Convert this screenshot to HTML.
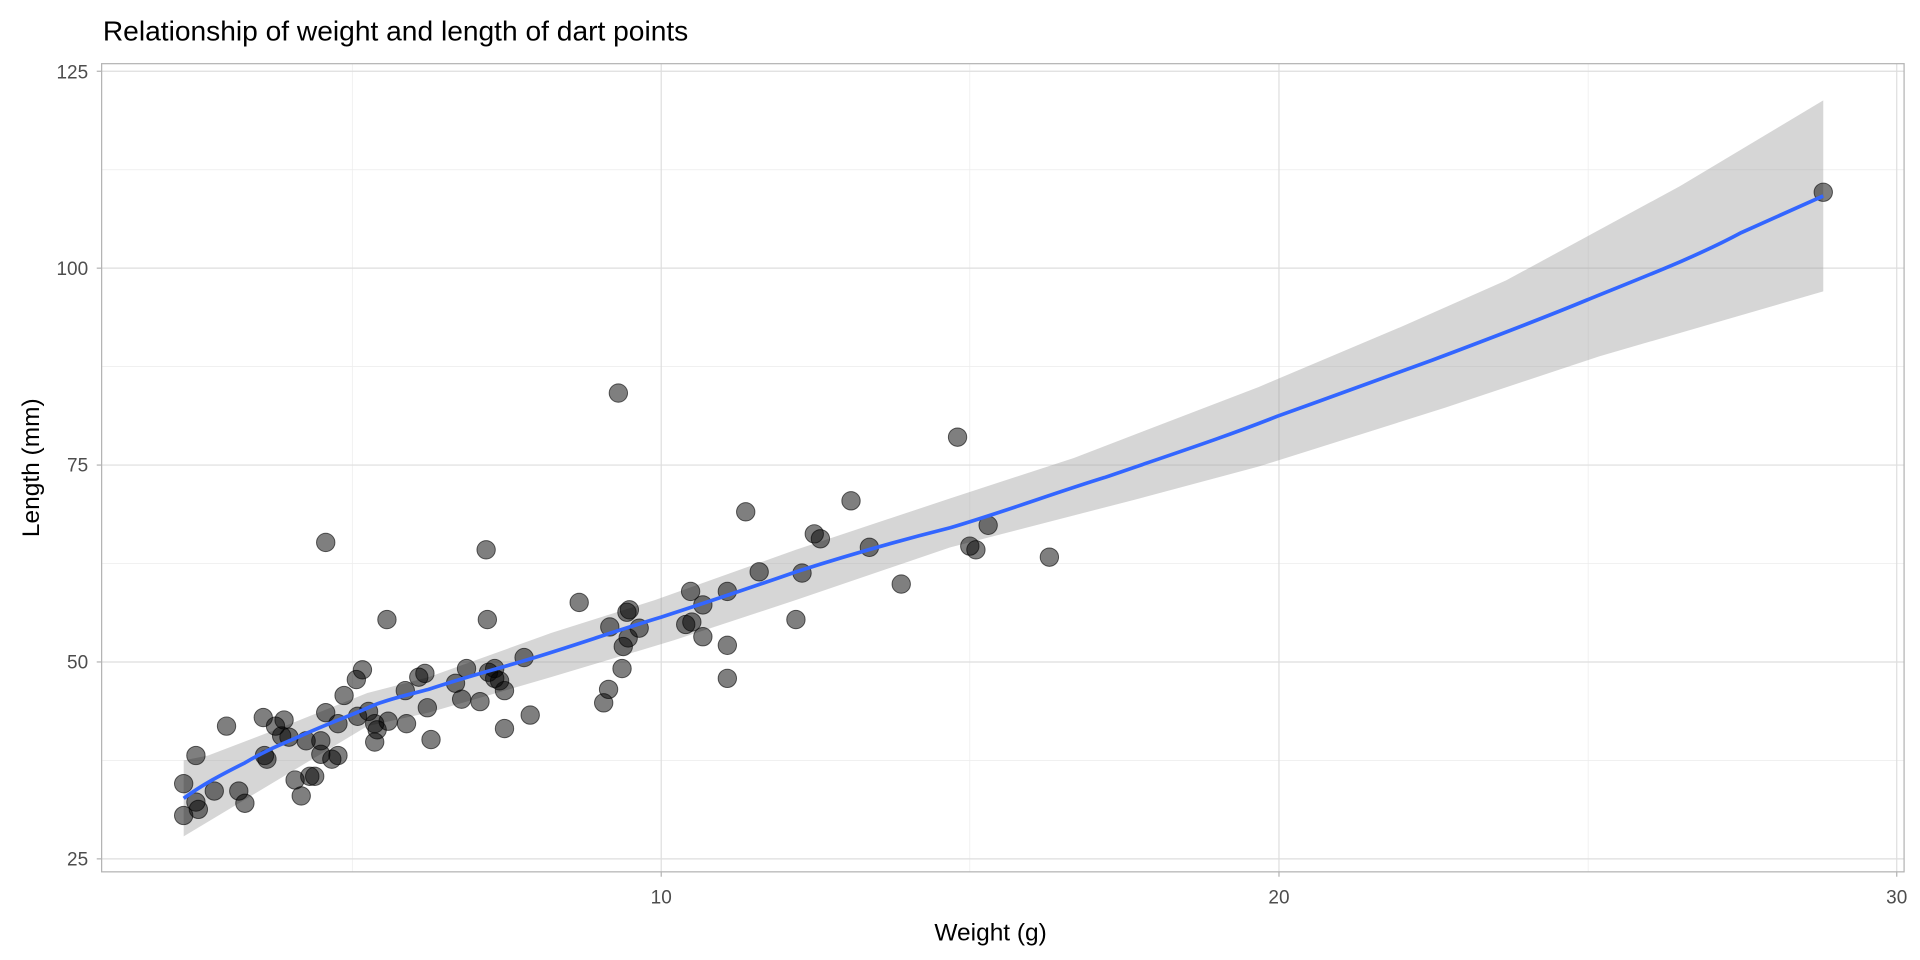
<!DOCTYPE html>
<html><head><meta charset="utf-8"><style>html,body{margin:0;padding:0;background:#fff}svg{display:block}</style></head>
<body>
<svg width="1920" height="960" viewBox="0 0 1568 784" xmlns="http://www.w3.org/2000/svg" font-family="Liberation Sans, sans-serif">
<rect width="1568" height="784" fill="#fff"/>
<text x="84" y="33" font-size="23" fill="#000">Relationship of weight and length of dart points</text>
<g stroke="#ececec" stroke-width="0.6">
<line x1="83" x2="1555" y1="621" y2="621"/><line x1="83" x2="1555" y1="460.2" y2="460.2"/><line x1="83" x2="1555" y1="299.4" y2="299.4"/><line x1="83" x2="1555" y1="138.6" y2="138.6"/>
<line x1="287.7" x2="287.7" y1="52" y2="712"/><line x1="792" x2="792" y1="52" y2="712"/><line x1="1297" x2="1297" y1="52" y2="712"/>
</g>
<g stroke="#dedede" stroke-width="1">
<line x1="83" x2="1555" y1="701.4" y2="701.4"/><line x1="83" x2="1555" y1="540.6" y2="540.6"/><line x1="83" x2="1555" y1="379.8" y2="379.8"/><line x1="83" x2="1555" y1="219" y2="219"/><line x1="83" x2="1555" y1="58.2" y2="58.2"/>
<line x1="540" x2="540" y1="52" y2="712"/><line x1="1044.5" x2="1044.5" y1="52" y2="712"/><line x1="1549" x2="1549" y1="52" y2="712"/>
</g>
<path d="M150,621 L170,617 L225,596 L300,566 L350,553 L450,517 L535,490 L650,449 L776,407 L877,374 L1028,316 L1144,267 L1230,229 L1372,152 L1489,82 L1489,238 L1306,291 L1180,333 L1028,381 L927,408 L776,447 L650,490 L550,523 L450,553 L350,582 L300,593 L200,653 L150,683 Z" fill="#999" fill-opacity="0.4"/>
<g fill="#000" fill-opacity="0.5" stroke="#000" stroke-opacity="0.6" stroke-width="0.8">
<circle cx="150" cy="640" r="7.5"/><circle cx="150" cy="666" r="7.5"/><circle cx="160" cy="617" r="7.5"/><circle cx="160" cy="655" r="7.5"/><circle cx="162" cy="661" r="7.5"/><circle cx="175" cy="646" r="7.5"/><circle cx="185" cy="593" r="7.5"/><circle cx="195" cy="646" r="7.5"/><circle cx="200" cy="656" r="7.5"/><circle cx="215" cy="586" r="7.5"/><circle cx="216" cy="617" r="7.5"/><circle cx="218" cy="620" r="7.5"/><circle cx="225" cy="593" r="7.5"/><circle cx="232" cy="588" r="7.5"/><circle cx="230" cy="601" r="7.5"/><circle cx="236" cy="602" r="7.5"/><circle cx="241" cy="637" r="7.5"/><circle cx="246" cy="650" r="7.5"/><circle cx="250" cy="605" r="7.5"/><circle cx="253" cy="634" r="7.5"/><circle cx="257" cy="634" r="7.5"/><circle cx="262" cy="616" r="7.5"/><circle cx="262" cy="605" r="7.5"/><circle cx="266" cy="443" r="7.5"/><circle cx="266" cy="582" r="7.5"/><circle cx="271" cy="620" r="7.5"/><circle cx="276" cy="617" r="7.5"/><circle cx="276" cy="591" r="7.5"/><circle cx="281" cy="568" r="7.5"/><circle cx="291" cy="555" r="7.5"/><circle cx="292" cy="585" r="7.5"/><circle cx="296" cy="547" r="7.5"/><circle cx="301" cy="581" r="7.5"/><circle cx="306" cy="591" r="7.5"/><circle cx="306" cy="606" r="7.5"/><circle cx="308" cy="596" r="7.5"/><circle cx="316" cy="506" r="7.5"/><circle cx="317" cy="589" r="7.5"/><circle cx="331" cy="564" r="7.5"/><circle cx="332" cy="591" r="7.5"/><circle cx="342" cy="553" r="7.5"/><circle cx="347" cy="550" r="7.5"/><circle cx="349" cy="578" r="7.5"/><circle cx="352" cy="604" r="7.5"/><circle cx="372" cy="558" r="7.5"/><circle cx="377" cy="571" r="7.5"/><circle cx="381" cy="546" r="7.5"/><circle cx="392" cy="573" r="7.5"/><circle cx="397" cy="449" r="7.5"/><circle cx="398" cy="506" r="7.5"/><circle cx="399" cy="549" r="7.5"/><circle cx="404" cy="546" r="7.5"/><circle cx="404" cy="554" r="7.5"/><circle cx="408" cy="556" r="7.5"/><circle cx="412" cy="564" r="7.5"/><circle cx="412" cy="595" r="7.5"/><circle cx="428" cy="537" r="7.5"/><circle cx="433" cy="584" r="7.5"/><circle cx="473" cy="492" r="7.5"/><circle cx="493" cy="574" r="7.5"/><circle cx="497" cy="563" r="7.5"/><circle cx="498" cy="512" r="7.5"/><circle cx="505" cy="321" r="7.5"/><circle cx="508" cy="546" r="7.5"/><circle cx="509" cy="528" r="7.5"/><circle cx="512" cy="500" r="7.5"/><circle cx="513" cy="521" r="7.5"/><circle cx="514" cy="498" r="7.5"/><circle cx="522" cy="513" r="7.5"/><circle cx="560" cy="510" r="7.5"/><circle cx="564" cy="483" r="7.5"/><circle cx="565" cy="508" r="7.5"/><circle cx="574" cy="520" r="7.5"/><circle cx="574" cy="494" r="7.5"/><circle cx="594" cy="554" r="7.5"/><circle cx="594" cy="527" r="7.5"/><circle cx="594" cy="483" r="7.5"/><circle cx="609" cy="418" r="7.5"/><circle cx="620" cy="467" r="7.5"/><circle cx="650" cy="506" r="7.5"/><circle cx="655" cy="468" r="7.5"/><circle cx="665" cy="436" r="7.5"/><circle cx="670" cy="440" r="7.5"/><circle cx="695" cy="409" r="7.5"/><circle cx="710" cy="447" r="7.5"/><circle cx="736" cy="477" r="7.5"/><circle cx="782" cy="357" r="7.5"/><circle cx="792" cy="446" r="7.5"/><circle cx="797" cy="449" r="7.5"/><circle cx="807" cy="429" r="7.5"/><circle cx="857" cy="455" r="7.5"/><circle cx="1489" cy="157" r="7.5"/>
</g>
<path d="M150,652 C165,641 180,633 200,623 C220,611 235,606 250,599 C275,588 290,583 305,576 C320,570 335,567 350,563 C380,553 400,548 430,539 C470,527 500,516 540,504 C580,491 610,481 650,467 C700,451 740,440 776,431 C820,418 860,403 902,390 C960,370 1000,357 1043,340 C1085,325 1125,310 1170,294 C1215,277 1255,262 1296,245 C1340,227 1385,210 1422,190 L1489,160" fill="none" stroke="#3366ff" stroke-width="3"/>
<rect x="83" y="52" width="1472" height="660" fill="none" stroke="#b3b3b3" stroke-width="1"/>
<g stroke="#b3b3b3" stroke-width="1">
<line x1="79" x2="83" y1="701.4" y2="701.4"/><line x1="79" x2="83" y1="540.6" y2="540.6"/><line x1="79" x2="83" y1="379.8" y2="379.8"/><line x1="79" x2="83" y1="219" y2="219"/><line x1="79" x2="83" y1="58.2" y2="58.2"/>
<line x1="540" x2="540" y1="712" y2="716"/><line x1="1044.5" x2="1044.5" y1="712" y2="716"/><line x1="1549" x2="1549" y1="712" y2="716"/>
</g>
<g font-size="15.5" fill="#4d4d4d" text-anchor="end">
<text x="72" y="707">25</text><text x="72" y="546">50</text><text x="72" y="385">75</text><text x="72" y="224.5">100</text><text x="72" y="64">125</text>
</g>
<g font-size="15.5" fill="#4d4d4d" text-anchor="middle">
<text x="540" y="738">10</text><text x="1044.5" y="738">20</text><text x="1549" y="738">30</text>
</g>
<text x="809" y="768" font-size="20" text-anchor="middle" fill="#000">Weight (g)</text>
<text transform="translate(32,382) rotate(-90)" font-size="20" text-anchor="middle" fill="#000">Length (mm)</text>
</svg>
</body></html>
